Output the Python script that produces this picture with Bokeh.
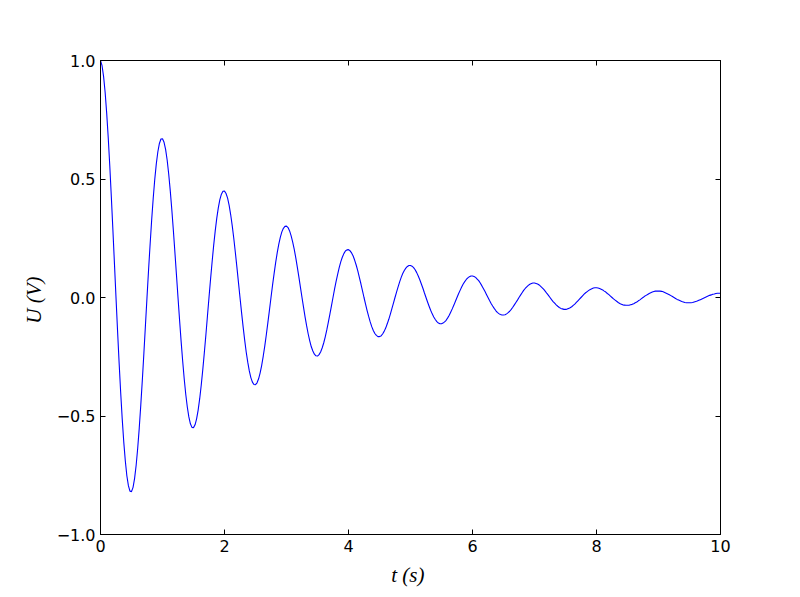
from bokeh.plotting import figure
from bokeh.models import LinearAxis, FixedTicker, Range1d
from bokeh.embed import file_html
from bokeh.resources import INLINE
import numpy as np

# readings of U(t) taken every 0.025 s from t = 0 to t = 10 s (one row per half second)
u_values = [
    1.000, 0.978, 0.932, 0.865, 0.777, 0.673, 0.554, 0.423, 0.285, 0.143, 0.000, -0.140, -0.274, -0.399, -0.511, -0.609, -0.689, -0.752, -0.794, -0.817,
    -0.819, -0.801, -0.763, -0.708, -0.636, -0.551, -0.453, -0.347, -0.234, -0.117, 0.000, 0.115, 0.224, 0.326, 0.418, 0.498, 0.564, 0.615, 0.650, 0.669,
    0.670, 0.655, 0.625, 0.580, 0.521, 0.451, 0.371, 0.284, 0.191, 0.096, 0.000, -0.094, -0.184, -0.267, -0.343, -0.408, -0.462, -0.504, -0.533, -0.548,
    -0.549, -0.537, -0.512, -0.475, -0.427, -0.369, -0.304, -0.232, -0.157, -0.078, 0.000, 0.077, 0.150, 0.219, 0.280, 0.334, 0.378, 0.413, 0.436, 0.448,
    0.449, 0.439, 0.419, 0.389, 0.349, 0.302, 0.249, 0.190, 0.128, 0.064, 0.000, -0.063, -0.123, -0.179, -0.230, -0.273, -0.310, -0.338, -0.357, -0.367,
    -0.368, -0.360, -0.343, -0.318, -0.286, -0.247, -0.204, -0.156, -0.105, -0.053, 0.000, 0.052, 0.101, 0.147, 0.188, 0.224, 0.254, 0.277, 0.292, 0.300,
    0.301, 0.295, 0.281, 0.260, 0.234, 0.203, 0.167, 0.127, 0.086, 0.043, 0.000, -0.042, -0.083, -0.120, -0.154, -0.183, -0.208, -0.226, -0.239, -0.246,
    -0.247, -0.241, -0.230, -0.213, -0.192, -0.166, -0.137, -0.104, -0.070, -0.035, 0.000, 0.035, 0.068, 0.098, 0.126, 0.150, 0.170, 0.185, 0.196, 0.201,
    0.202, 0.197, 0.188, 0.175, 0.157, 0.136, 0.112, 0.085, 0.058, 0.029, 0.000, -0.028, -0.055, -0.080, -0.103, -0.123, -0.139, -0.152, -0.160, -0.165,
    -0.165, -0.162, -0.154, -0.143, -0.129, -0.111, -0.092, -0.070, -0.047, -0.024, 0.000, 0.023, 0.045, 0.066, 0.085, 0.101, 0.114, 0.124, 0.131, 0.135,
    0.135, 0.132, 0.126, 0.117, 0.105, 0.091, 0.075, 0.057, 0.039, 0.019, 0.000, -0.019, -0.037, -0.054, -0.069, -0.082, -0.093, -0.102, -0.108, -0.111,
    -0.111, -0.108, -0.103, -0.096, -0.086, -0.075, -0.061, -0.047, -0.032, -0.016, 0.000, 0.016, 0.030, 0.044, 0.057, 0.067, 0.076, 0.083, 0.088, 0.091,
    0.091, 0.089, 0.085, 0.078, 0.071, 0.061, 0.050, 0.038, 0.026, 0.013, 0.000, -0.013, -0.025, -0.036, -0.046, -0.055, -0.063, -0.068, -0.072, -0.074,
    -0.074, -0.073, -0.069, -0.064, -0.058, -0.050, -0.041, -0.031, -0.021, -0.011, 0.000, 0.010, 0.020, 0.030, 0.038, 0.045, 0.051, 0.056, 0.059, 0.061,
    0.061, 0.059, 0.057, 0.053, 0.047, 0.041, 0.034, 0.026, 0.017, 0.009, 0.000, -0.009, -0.017, -0.024, -0.031, -0.037, -0.042, -0.046, -0.048, -0.050,
    -0.050, -0.049, -0.046, -0.043, -0.039, -0.033, -0.028, -0.021, -0.014, -0.007, 0.000, 0.007, 0.014, 0.020, 0.025, 0.030, 0.034, 0.037, 0.040, 0.041,
    0.041, 0.040, 0.038, 0.035, 0.032, 0.027, 0.023, 0.017, 0.012, 0.006, 0.000, -0.006, -0.011, -0.016, -0.021, -0.025, -0.028, -0.031, -0.032, -0.033,
    -0.033, -0.033, -0.031, -0.029, -0.026, -0.022, -0.019, -0.014, -0.010, -0.005, 0.000, 0.005, 0.009, 0.013, 0.017, 0.020, 0.023, 0.025, 0.027, 0.027,
    0.027, 0.027, 0.026, 0.024, 0.021, 0.018, 0.015, 0.012, 0.008, 0.004, 0.000, -0.004, -0.008, -0.011, -0.014, -0.017, -0.019, -0.021, -0.022, -0.022,
    -0.022, -0.022, -0.021, -0.019, -0.017, -0.015, -0.012, -0.009, -0.006, -0.003, 0.000, 0.003, 0.006, 0.009, 0.011, 0.014, 0.015, 0.017, 0.018, 0.018,
    0.018,
]
t_values = np.linspace(0.0, 10.0, len(u_values))

x_ticks = [0, 2, 4, 6, 8, 10]
x_tick_labels = ["0", "2", "4", "6", "8", "10"]
y_ticks = [-1.0, -0.5, 0.0, 0.5, 1.0]
y_tick_labels = ["\u22121.0", "\u22120.5", "0.0", "0.5", "1.0"]

p = figure(width=792, height=589, output_backend="svg", toolbar_location=None,
           x_range=Range1d(0, 10), y_range=Range1d(-1.0, 1.0),
           min_border_left=100, min_border_right=72,
           min_border_top=60, min_border_bottom=52)
p.background_fill_color = "white"
p.border_fill_color = "white"
p.outline_line_color = "black"
p.outline_line_width = 1
p.xgrid.visible = False
p.ygrid.visible = False

p.line(t_values, u_values, line_color="#0000ff", line_width=1.1)

def style(ax, ticks, labels, show_labels):
    ax.ticker = FixedTicker(ticks=ticks)
    ax.major_label_overrides = {t: l for t, l in zip(ticks, labels)}
    ax.major_tick_in = 5
    ax.major_tick_out = 0
    ax.minor_tick_in = 0
    ax.minor_tick_out = 0
    ax.major_tick_line_color = "black"
    ax.axis_line_color = "black"
    ax.major_label_text_font = "DejaVu Sans"
    ax.major_label_text_font_size = "16px" if show_labels else "0px"
    ax.major_label_text_color = "black"
    ax.major_label_standoff = 5

xa = p.xaxis[0]
ya = p.yaxis[0]
style(xa, x_ticks, x_tick_labels, True)
style(ya, y_ticks, y_tick_labels, True)
xa.axis_label = "t  (s)"
ya.axis_label = "U  (V)"
for ax in (xa, ya):
    ax.axis_label_text_font = "Liberation Serif"
    ax.axis_label_text_font_style = "italic"
    ax.axis_label_text_font_size = "21px"
    ax.axis_label_text_color = "black"
    ax.axis_label_standoff = 8

top = LinearAxis()
style(top, x_ticks, x_tick_labels, False)
p.add_layout(top, "above")
right = LinearAxis()
style(right, y_ticks, y_tick_labels, False)
p.add_layout(right, "right")

open("out.html", "w").write(file_html(p, INLINE))
